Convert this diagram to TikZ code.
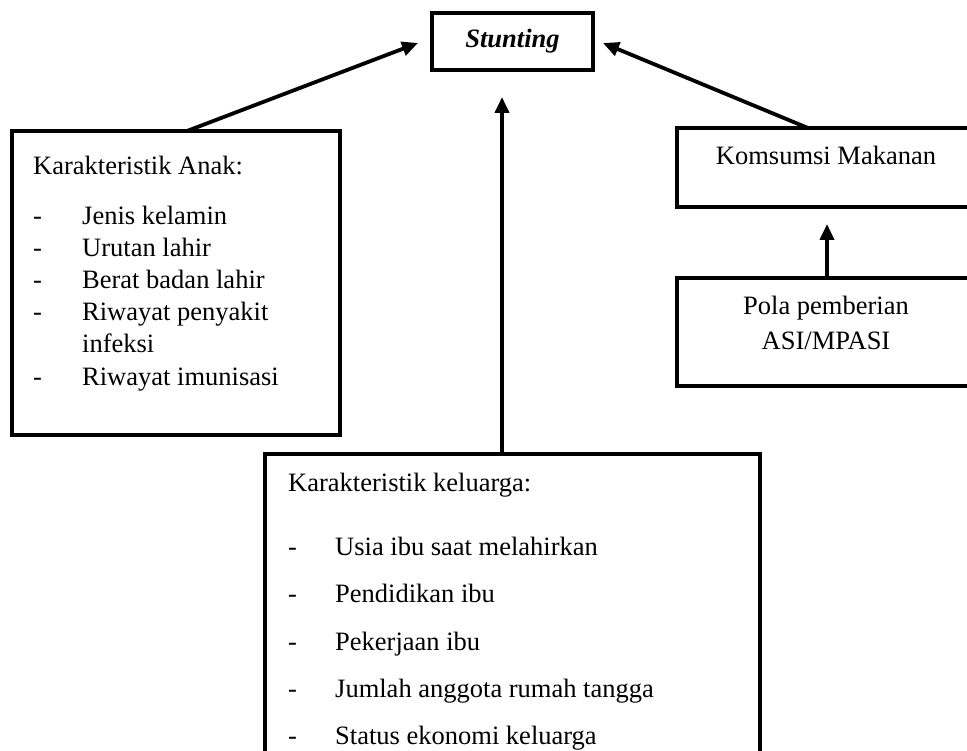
\documentclass[tikz,border=0pt]{standalone}
\usepackage{fontspec}
\setmainfont{Liberation Serif}
\usetikzlibrary{arrows.meta}
\begin{document}
\begin{tikzpicture}[x=1pt,y=-1pt,
  box/.style={draw,line width=3.3pt,rectangle,inner sep=0pt,outer sep=0pt,anchor=north west},
  txt/.style={inner sep=0pt,anchor=base west,font=\fontsize{26.5}{32}\selectfont},
  ctxt/.style={inner sep=0pt,anchor=base,font=\fontsize{26.5}{32}\selectfont},
  arr/.style={line width=3.8pt,-{Triangle[length=16pt,width=14pt]}}]
\clip (0,0) rectangle (967,751);
% boxes
\node[box,minimum width=161pt,minimum height=57pt,font=\fontsize{26.5}{32}\selectfont\bfseries\itshape] (st) at (432,13) {Stunting};
\node[box,minimum width=328pt,minimum height=304pt] (lb) at (12,131) {};
\node[box,minimum width=300pt,minimum height=79pt] (km) at (677,128) {};
\node[box,minimum width=300pt,minimum height=108pt] (pl) at (677,278) {};
\node[box,minimum width=495pt,minimum height=320pt] (kb) at (265,454) {};
% left box text
\node[txt] (la) at (33,175) {Karakteristik Anak:};
\node[txt] (ld1) at (33,225) {-};
\node[txt] (li1) at (82,225) {Jenis kelamin};
\node[txt] (ld2) at (33,257) {-};
\node[txt] (li2) at (82,257) {Urutan lahir};
\node[txt] (ld3) at (33,289) {-};
\node[txt] (li3) at (82,289) {Berat badan lahir};
\node[txt] (ld4) at (33,321) {-};
\node[txt] (li4) at (82,321) {Riwayat penyakit};
\node[txt] (li4b) at (82,353) {infeksi};
\node[txt] (ld5) at (33,385) {-};
\node[txt] (li5) at (82,385) {Riwayat imunisasi};
% right boxes text
\node[ctxt] (kmt) at (826,165) {Komsumsi Makanan};
\node[ctxt] (plt1) at (826,315) {Pola pemberian};
\node[ctxt] (plt2) at (826,350) {ASI/MPASI};
% bottom box text
\node[txt] (ka) at (288,491) {Karakteristik keluarga:};
\node[txt] (kd1) at (288,555) {-};
\node[txt] (ki1) at (335,555) {Usia ibu saat melahirkan};
\node[txt] (kd2) at (288,602) {-};
\node[txt] (ki2) at (335,602) {Pendidikan ibu};
\node[txt] (kd3) at (288,650) {-};
\node[txt] (ki3) at (335,650) {Pekerjaan ibu};
\node[txt] (kd4) at (288,697) {-};
\node[txt] (ki4) at (335,697) {Jumlah anggota rumah tangga};
\node[txt] (kd5) at (288,744) {-};
\node[txt] (ki5) at (335,744) {Status ekonomi keluarga};
% arrow tips
\coordinate (tL) at (418,43);
\coordinate (tR) at (603,43);
\coordinate (tB) at ([yshift=357pt]kb.north west -| 502,0);
\coordinate (tK) at ([yshift=54pt]pl.north);
% connectors
\draw[arr] ([xshift=175pt]lb.north west) -- (tL);
\draw[arr] ([xshift=131pt]km.north west) -- (tR);
\draw[arr] ([xshift=237pt]kb.north west) -- (tB);
\draw[arr] (pl.north) -- (tK);
\end{tikzpicture}
\end{document}
